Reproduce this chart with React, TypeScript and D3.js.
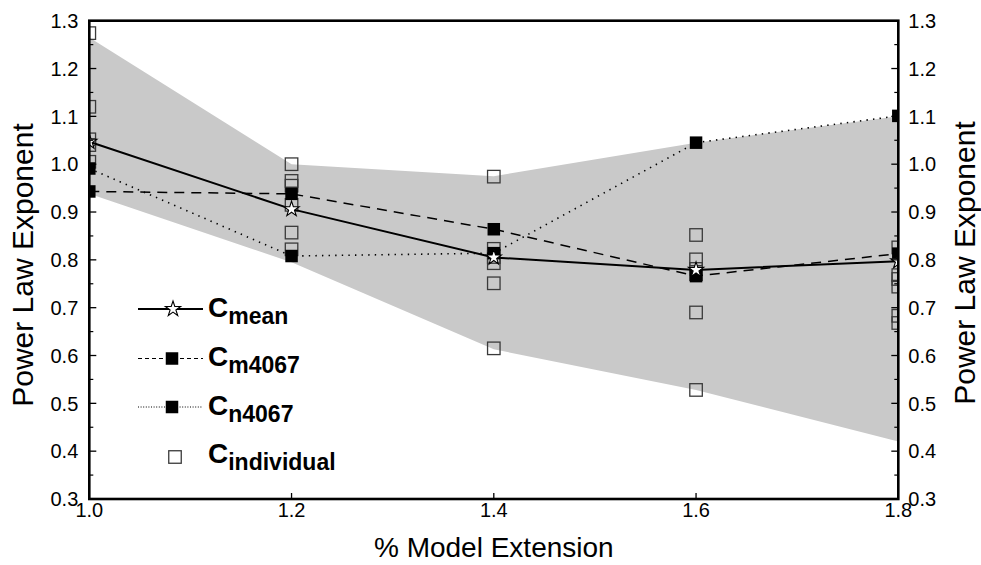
import React from "react";
import * as d3 from "d3";

const xValues = [1.0, 1.2, 1.4, 1.6, 1.8];
const cMean = [1.047, 0.906, 0.805, 0.779, 0.797];
const cM4067 = [0.943, 0.938, 0.864, 0.766, 0.813];
const cN4067 = [0.991, 0.808, 0.814, 1.045, 1.101];
const bandUpper = [1.265, 1.0, 0.975, 1.045, 1.1];
const bandLower = [0.938, 0.795, 0.613, 0.528, 0.42];
const indiv10 = [1.274, 1.12, 1.052, 1.04, 1.005];
const indiv12 = [1.0, 0.965, 0.955, 0.915, 0.857, 0.822];
const indiv14 = [0.974, 0.823, 0.806, 0.793, 0.751, 0.615];
const indiv16 = [0.852, 0.801, 0.781, 0.77, 0.69, 0.528];
const indiv18 = [0.826, 0.768, 0.76, 0.744, 0.683, 0.668];
const individuals = [indiv10, indiv12, indiv14, indiv16, indiv18];
const xTicks = [1.0, 1.2, 1.4, 1.6, 1.8];
const yTicks = [0.3, 0.4, 0.5, 0.6, 0.7, 0.8, 0.9, 1.0, 1.1, 1.2, 1.3];
const legendLabels = ["mean", "m4067", "n4067", "individual"];

const W = 981;
const H = 565;
const L = 89.3;
const R = 898.3;
const T = 20.7;
const B = 499;

export default function App() {
  const x = d3.scaleLinear().domain([1.0, 1.8]).range([L, R]);
  const y = d3.scaleLinear().domain([0.3, 1.3]).range([B, T]);

  const area = d3
    .area<number>()
    .x((_, i) => x(xValues[i]))
    .y0((_, i) => y(bandLower[i]))
    .y1((d) => y(d));
  const line = d3
    .line<number>()
    .x((_, i) => x(xValues[i]))
    .y((d) => y(d));

  const star = d3.symbol(d3.symbolStar, 72)()!;
  const sq = 12.5;
  const font = "'Liberation Sans', Arial, Helvetica, sans-serif";

  const minorTicks: number[] = [];
  for (let i = 0; i < 10; i++) minorTicks.push(0.35 + i * 0.1);

  const legendY = [309, 358.5, 407, 457];
  const legendBase = [317, 366, 414.5, 462.5];

  return (
    <svg
      width={W}
      height={H}
      style={{ position: "absolute", left: 0, top: 0, background: "#fff" }}
    >
      <defs>
        <clipPath id="plotclip">
          <rect x={L} y={T} width={R - L} height={B - T} />
        </clipPath>
      </defs>
      <g clipPath="url(#plotclip)">
        <path d={area(bandUpper)!} fill="#c9c9c9" />
        {individuals.map((vals, i) =>
          vals.map((v, j) => (
            <rect
              key={`i${i}-${j}`}
              x={x(xValues[i]) - sq / 2}
              y={y(v) - sq / 2}
              width={sq}
              height={sq}
              fill="none"
              stroke="#3a3a3a"
              strokeWidth={1.3}
            />
          ))
        )}
        <path
          d={line(cM4067)!}
          fill="none"
          stroke="#000"
          strokeWidth={1.5}
          strokeDasharray="10,7"
        />
        <path
          d={line(cN4067)!}
          fill="none"
          stroke="#000"
          strokeWidth={1.6}
          strokeDasharray="1.4,5.2"
        />
        {cM4067.map((v, i) => (
          <rect
            key={`m${i}`}
            x={x(xValues[i]) - sq / 2}
            y={y(v) - sq / 2}
            width={sq}
            height={sq}
            fill="#000"
          />
        ))}
        {cN4067.map((v, i) => (
          <rect
            key={`n${i}`}
            x={x(xValues[i]) - sq / 2}
            y={y(v) - sq / 2}
            width={sq}
            height={sq}
            fill="#000"
          />
        ))}
        <path d={line(cMean)!} fill="none" stroke="#000" strokeWidth={2} />
        {cMean.map((v, i) => (
          <path
            key={`s${i}`}
            d={star}
            transform={`translate(${x(xValues[i])},${y(v)})`}
            fill="#fff"
            stroke="#000"
            strokeWidth={1.1}
          />
        ))}
      </g>

      {yTicks.map((t) => (
        <g key={`yt${t}`}>
          <line x1={L} x2={L + 7} y1={y(t)} y2={y(t)} stroke="#000" strokeWidth={1.3} />
          <line x1={R} x2={R - 7} y1={y(t)} y2={y(t)} stroke="#000" strokeWidth={1.3} />
          <text
            x={L - 11}
            y={y(t)}
            dy="0.36em"
            textAnchor="end"
            fontFamily={font}
            fontSize={20}
          >
            {t.toFixed(1)}
          </text>
          <text
            x={R + 10}
            y={y(t)}
            dy="0.36em"
            textAnchor="start"
            fontFamily={font}
            fontSize={20}
          >
            {t.toFixed(1)}
          </text>
        </g>
      ))}
      {minorTicks.map((t) => (
        <g key={`ym${t}`}>
          <line x1={L} x2={L + 4} y1={y(t)} y2={y(t)} stroke="#000" strokeWidth={1.2} />
          <line x1={R} x2={R - 4} y1={y(t)} y2={y(t)} stroke="#000" strokeWidth={1.2} />
        </g>
      ))}
      {xTicks.map((t) => (
        <g key={`xt${t}`}>
          <line x1={x(t)} x2={x(t)} y1={B} y2={B - 6} stroke="#000" strokeWidth={1.3} />
          <text
            x={x(t)}
            y={517}
            textAnchor="middle"
            fontFamily={font}
            fontSize={20}
          >
            {t.toFixed(1)}
          </text>
        </g>
      ))}

      <rect
        x={L}
        y={T}
        width={R - L}
        height={B - T}
        fill="none"
        stroke="#000"
        strokeWidth={2.6}
      />

      <text
        x={(L + R) / 2}
        y={557}
        textAnchor="middle"
        fontFamily={font}
        fontSize={28}
      >
        % Model Extension
      </text>
      <text
        transform={`translate(33,265) rotate(-90)`}
        textAnchor="middle"
        fontFamily={font}
        fontSize={30}
      >
        Power Law Exponent
      </text>
      <text
        transform={`translate(975,263) rotate(-90)`}
        textAnchor="middle"
        fontFamily={font}
        fontSize={30}
      >
        Power Law Exponent
      </text>

      <g>
        <line x1={138} x2={203} y1={legendY[0]} y2={legendY[0]} stroke="#000" strokeWidth={2} />
        <path
          d={star}
          transform={`translate(173,${legendY[0]})`}
          fill="#fff"
          stroke="#000"
          strokeWidth={1.1}
        />
        <line
          x1={138}
          x2={203}
          y1={legendY[1]}
          y2={legendY[1]}
          stroke="#000"
          strokeWidth={1}
          strokeDasharray="4,3"
        />
        <rect x={172 - sq / 2} y={legendY[1] - sq / 2} width={sq} height={sq} fill="#000" />
        <line
          x1={138}
          x2={203}
          y1={legendY[2]}
          y2={legendY[2]}
          stroke="#000"
          strokeWidth={1}
          strokeDasharray="1,1.6"
        />
        <rect x={172 - sq / 2} y={legendY[2] - sq / 2} width={sq} height={sq} fill="#000" />
        <rect
          x={175 - sq / 2}
          y={legendY[3] - sq / 2}
          width={sq}
          height={sq}
          fill="none"
          stroke="#3a3a3a"
          strokeWidth={1.3}
        />
        {legendLabels.map((lab, i) => (
          <text
            key={lab}
            x={208}
            y={legendBase[i]}
            fontFamily={font}
            fontWeight="bold"
            fontSize={28}
          >
            C
            <tspan fontSize={23} dy={7}>
              {lab}
            </tspan>
          </text>
        ))}
      </g>
    </svg>
  );
}
